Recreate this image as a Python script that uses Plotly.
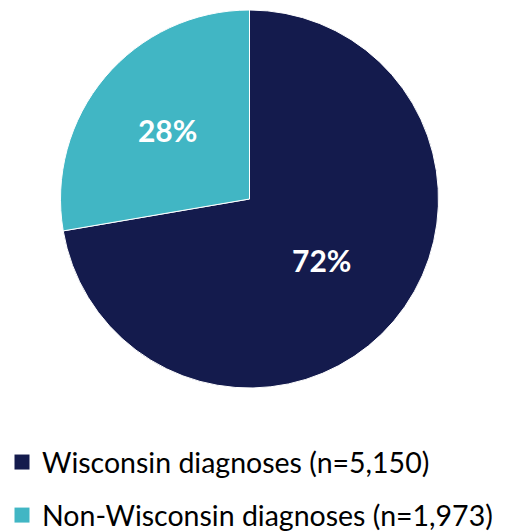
import plotly.graph_objects as go

labels = ["Wisconsin diagnoses (n=5,150)", "Non-Wisconsin diagnoses (n=1,973)"]
values = [5150, 1973]
colors = ["#141B4D", "#41B6C4"]

W, H = 505, 532
fig = go.Figure()
fig.add_trace(go.Pie(
    labels=labels, values=values, sort=False, direction="clockwise", rotation=0,
    marker=dict(colors=colors, line=dict(color="white", width=1)),
    textinfo="percent", texttemplate="%{percent:.0%}",
    textposition="inside", insidetextorientation="horizontal",
    textfont=dict(family="Lato", size=30, color="white", weight="bold"),
    showlegend=False,
    domain=dict(x=[60/W, 439/W], y=[1-388/H, 1-10/H]),
    hoverinfo="label+value+percent",
))
for i, (lab, col) in enumerate(zip(labels, colors)):
    fig.add_trace(go.Scatter(
        x=[None], y=[None], mode="markers", name=lab, legendgroup=f"g{i}",
        marker=dict(symbol="square", size=15, color=col), showlegend=True,
    ))
fig.update_layout(
    width=W, height=H, margin=dict(l=0, r=0, t=0, b=0, autoexpand=False),
    paper_bgcolor="white", plot_bgcolor="white",
    xaxis=dict(visible=False), yaxis=dict(visible=False),
    legend=dict(x=2/W, y=1-437/H, xanchor="left", yanchor="top",
                font=dict(family="Lato", size=28.5, color="#000000"),
                traceorder="grouped", tracegroupgap=13,
                bgcolor="rgba(0,0,0,0)"),
)
fig.write_html("out.html", config={"displayModeBar": False},
               post_script="document.body.style.margin='0';")
